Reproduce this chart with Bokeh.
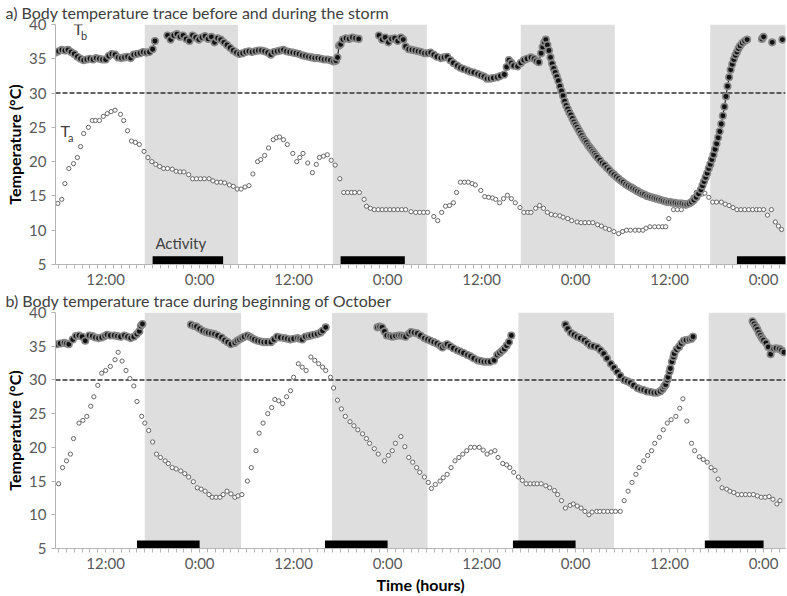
import math
from bokeh.plotting import figure
from bokeh.layouts import column
from bokeh.models import Range1d, FixedTicker, Span, Label
from bokeh.embed import file_html
from bokeh.resources import INLINE

FONT = "Lato"

# ---------------- data ----------------
x_start, x_end = 5.6, 98.8
y_ticks = [5, 10, 15, 20, 25, 30, 35, 40]
hour_ticks = list(range(6, 99))
label_hours = {12: "12:00", 24: "0:00", 36: "12:00", 48: "0:00",
               60: "12:00", 72: "0:00", 84: "12:00", 96: "0:00"}
threshold = 30

title_a = "a) Body temperature trace before and during the storm"
title_b = "b) Body temperature trace during beginning of October"

night_a_start = [17.0, 41.0, 65.0, 89.2]
night_a_end = [28.9, 53.0, 77.0, 99.5]
night_b_start = [17.0, 40.9, 64.7, 89.0]
night_b_end = [29.3, 53.1, 76.9, 99.5]

act_a_start = [18.0, 42.0, 92.6]
act_a_end = [27.0, 50.2, 99.5]
act_b_start = [16.0, 40.0, 64.0, 88.5]
act_b_end = [24.0, 48.0, 72.0, 96.0]

# Body temperature (Tb), panel a: (hour, degC); None = gap in record
tb_a = [
    (5.6, 35.9), (6.0, 36.1), (6.4, 36.3), (6.8, 36.2), (7.2, 36.3), (7.6, 36.0), (8.0, 35.7),
    (8.4, 35.3), (8.8, 35.0), (9.2, 34.8), (9.6, 34.9), (10.0, 35.0), (10.4, 34.9), (10.8, 35.1),
    (11.2, 35.0), (11.6, 34.9), (12.0, 34.9), (12.4, 35.4), (12.8, 35.7), (13.2, 35.6), (13.6, 35.2),
    (14.0, 35.1), (14.4, 35.2), (14.8, 35.3), (15.2, 35.1), (15.6, 35.6), (16.0, 35.7), (16.4, 35.8),
    (16.8, 36.0), (17.2, 35.9), (17.6, 36.0), (18.0, 36.4), (18.3, 37.6), None,
    (19.9, 38.4), (20.3, 37.8), (20.7, 38.4), (21.1, 38.6), (21.5, 38.2), (21.9, 38.4), (22.3, 37.9),
    (22.7, 37.6), (23.1, 38.4), (23.5, 38.1), (23.9, 37.8), (24.3, 38.1), (24.7, 38.3), (25.1, 37.9),
    (25.5, 38.2), (25.9, 37.4), (26.3, 38.0), (26.7, 37.8), (27.1, 37.4), (27.5, 37.0), (27.9, 36.6),
    (28.3, 36.2), (28.7, 35.9), (29.1, 35.7), (29.5, 35.8), (29.9, 36.0), (30.3, 36.1), (30.7, 36.0),
    (31.1, 36.1), (31.5, 36.2), (31.9, 36.2), (32.3, 36.1), (32.7, 35.9), (33.1, 35.6), (33.5, 36.0),
    (33.9, 36.1), (34.3, 36.2), (34.7, 36.3), (35.1, 36.1), (35.5, 36.0), (35.9, 35.9), (36.3, 35.8),
    (36.7, 35.7), (37.1, 35.5), (37.5, 35.4), (37.9, 35.3), (38.3, 35.2), (38.7, 35.1), (39.1, 35.1),
    (39.5, 35.0), (39.9, 34.9), (40.3, 34.9), (40.7, 34.8), (41.1, 34.6), (41.4, 34.7), (41.6, 35.2),
    (41.8, 36.9), (42.0, 37.1), (42.3, 37.8), (42.7, 38.0), (43.1, 37.9), (43.5, 38.1), (43.9, 38.0),
    (44.3, 37.9), None,
    (46.9, 38.4), (47.3, 37.8), (47.7, 38.1), (48.1, 37.4), (48.5, 37.9), (48.9, 38.0), (49.3, 37.6),
    (49.7, 38.1), (50.0, 37.8), (50.3, 36.8), (50.7, 36.4), (51.1, 36.3), (51.5, 36.2), (51.9, 36.1),
    (52.3, 36.0), (52.7, 35.8), (53.1, 35.8), (53.5, 35.9), (53.9, 35.6), (54.3, 35.3), (54.8, 35.1),
    (55.2, 35.2), (55.6, 35.3), (56.0, 34.8), (56.4, 34.4), (56.9, 34.0), (57.3, 33.7), (57.7, 33.5),
    (58.2, 33.3), (58.6, 33.1), (59.0, 33.0), (59.5, 32.8), (59.9, 32.6), (60.3, 32.4), (60.7, 32.1),
    (61.1, 32.1), (61.5, 32.2), (62.0, 32.3), (62.4, 32.5), (62.9, 32.7), (63.2, 33.8), (63.5, 34.8),
    (63.8, 34.4), (64.1, 34.0), (64.6, 33.9), (65.0, 34.4), (65.4, 34.8), (65.8, 35.0), (66.3, 35.2),
    (66.7, 35.0), (67.0, 34.7), (67.3, 34.5), (67.6, 35.8), (67.8, 36.7), (68.0, 37.4), (68.2, 37.8),
    (68.4, 37.0), (68.6, 36.2), (68.8, 35.2), (69.0, 34.3), (69.2, 33.6), (69.4, 33.0), (69.6, 32.4),
    (69.8, 31.8), (70.0, 31.0), (70.2, 30.3), (70.4, 29.6), (70.6, 28.8), (70.8, 28.2), (71.0, 27.7),
    (71.2, 27.2), (71.4, 26.8), (71.6, 26.3), (71.8, 25.8), (72.0, 25.4), (72.2, 25.0), (72.4, 24.6),
    (72.6, 24.2), (72.8, 23.8), (73.0, 23.4), (73.2, 23.1), (73.4, 22.8), (73.6, 22.4), (73.8, 22.1),
    (74.0, 21.8), (74.2, 21.5), (74.4, 21.2), (74.6, 20.9), (74.8, 20.6), (75.1, 20.2), (75.4, 19.8),
    (75.7, 19.5), (76.0, 19.1), (76.3, 18.8), (76.6, 18.4), (76.9, 18.1), (77.2, 17.8), (77.5, 17.5),
    (77.8, 17.2), (78.1, 17.0), (78.4, 16.7), (78.7, 16.5), (79.0, 16.3), (79.3, 16.1), (79.6, 15.9),
    (79.9, 15.7), (80.2, 15.5), (80.5, 15.3), (80.8, 15.2), (81.1, 15.0), (81.4, 14.9), (81.7, 14.8),
    (82.0, 14.7), (82.3, 14.6), (82.6, 14.5), (82.9, 14.4), (83.2, 14.3), (83.5, 14.2), (83.8, 14.1),
    (84.1, 14.1), (84.4, 14.0), (84.7, 14.0), (85.0, 13.9), (85.3, 13.9), (85.6, 13.9), (85.9, 13.8),
    (86.2, 13.8), (86.5, 13.9), (86.8, 14.1), (87.1, 14.4), (87.4, 14.8), (87.7, 15.3), (88.0, 15.9),
    (88.2, 16.5), (88.4, 17.1), (88.6, 17.7), (88.8, 18.3), (89.0, 19.0), (89.2, 19.6), (89.4, 20.3),
    (89.6, 21.0), (89.8, 21.8), (90.0, 22.6), (90.2, 23.5), (90.4, 24.4), (90.6, 25.5), (90.8, 26.7),
    (91.0, 28.0), (91.2, 29.5), (91.4, 31.0), (91.6, 32.3), (91.8, 33.4), (92.0, 34.2), (92.2, 34.9),
    (92.4, 35.5), (92.6, 36.0), (92.8, 36.5), (93.0, 36.9), (93.3, 37.3), (93.6, 37.6), (93.9, 37.8),
    None, (95.8, 37.9), (96.0, 38.2), None, (97.1, 37.4), None, (98.4, 37.8),
]

# Ambient temperature (Ta), panel a
ta_a = [
    (5.9, 13.9), (6.4, 14.5), (6.8, 16.8), (7.3, 19.0), (7.9, 19.7), (8.4, 20.6), (8.8, 22.2),
    (9.2, 24.1), (9.8, 25.0), (10.3, 26.0), (10.7, 26.0), (11.2, 26.0), (11.7, 26.6), (12.2, 27.0),
    (12.7, 27.3), (13.2, 27.5), (13.9, 26.9), (14.3, 26.0), (14.8, 24.5), (15.3, 23.0), (15.8, 22.8),
    (16.3, 22.5), (16.9, 21.5), (17.4, 20.6), (17.9, 20.0), (18.4, 19.6), (18.9, 19.3), (19.4, 19.0),
    (19.9, 19.0), (20.5, 18.9), (21.0, 18.6), (21.5, 18.5), (22.0, 18.5), (22.6, 18.1), (23.1, 17.5),
    (23.6, 17.5), (24.1, 17.5), (24.6, 17.5), (25.2, 17.5), (25.7, 17.2), (26.2, 17.0), (26.7, 17.0),
    (27.2, 16.9), (27.8, 16.6), (28.3, 16.4), (28.8, 16.0), (29.3, 16.0), (29.8, 16.3), (30.3, 16.5),
    (30.8, 18.2), (31.4, 20.0), (31.8, 20.3), (32.3, 20.9), (32.8, 22.0), (33.4, 23.2), (33.8, 23.5),
    (34.2, 23.6), (34.7, 23.2), (35.2, 22.5), (35.9, 21.2), (36.4, 20.0), (36.8, 20.6), (37.2, 21.2),
    (37.8, 19.8), (38.4, 18.4), (38.9, 19.6), (39.3, 20.6), (39.8, 20.8), (40.3, 21.0), (40.8, 20.2),
    (41.3, 19.5), (41.9, 17.5), (42.4, 15.5), (42.9, 15.5), (43.4, 15.5), (43.8, 15.5), (44.4, 15.5),
    (45.0, 14.5), (45.3, 13.5), (45.8, 13.2), (46.3, 13.0), (46.8, 13.0), (47.3, 13.0), (47.8, 13.0),
    (48.3, 13.0), (48.8, 13.0), (49.3, 13.0), (49.8, 13.0), (50.3, 13.0), (51.0, 12.7), (51.6, 12.6),
    (52.1, 12.6), (52.6, 12.6), (53.1, 12.6), (53.9, 12.0), (54.4, 11.4), (54.9, 12.6), (55.4, 13.5),
    (55.9, 13.6), (56.4, 14.0), (56.8, 15.5), (57.3, 17.0), (57.8, 17.0), (58.3, 17.0), (58.8, 16.8),
    (59.2, 16.6), (59.9, 15.8), (60.4, 14.9), (60.9, 14.8), (61.4, 14.7), (61.8, 14.5), (62.3, 14.0),
    (62.8, 14.6), (63.3, 15.1), (63.8, 14.6), (64.3, 14.0), (64.9, 13.3), (65.4, 12.6), (65.9, 12.6),
    (66.3, 12.6), (66.9, 13.2), (67.4, 13.6), (67.9, 13.2), (68.4, 12.6), (68.9, 12.3), (69.4, 12.2),
    (70.0, 12.1), (70.4, 11.9), (71.0, 11.7), (71.5, 11.4), (72.2, 11.2), (72.7, 11.1), (73.2, 11.1),
    (73.7, 11.1), (74.2, 11.1), (74.8, 10.8), (75.3, 10.6), (75.8, 10.3), (76.3, 10.1), (76.9, 9.8),
    (77.5, 9.5), (78.0, 9.8), (78.5, 10.0), (79.0, 10.0), (79.6, 10.0), (80.1, 10.0), (80.6, 10.0),
    (81.0, 10.3), (81.5, 10.5), (82.1, 10.5), (82.6, 10.5), (83.1, 10.5), (83.5, 10.5), (83.9, 11.7),
    (84.5, 13.0), (85.0, 13.0), (85.5, 13.0), (86.1, 13.5), (86.5, 13.9), (87.0, 14.8), (87.4, 15.5),
    (87.8, 15.5), (88.2, 15.3), (88.5, 15.4), (89.0, 14.8), (89.5, 14.1), (90.0, 14.1), (90.6, 14.1),
    (91.1, 13.8), (91.6, 13.6), (92.1, 13.3), (92.6, 13.0), (93.1, 13.0), (93.6, 13.0), (94.1, 13.0),
    (94.6, 13.0), (95.1, 13.0), (95.5, 13.0), (96.0, 13.0), (96.5, 12.2), (97.0, 13.0), (97.5, 11.2),
    (97.9, 10.6), (98.3, 10.1),
]

# Body temperature (Tb), panel b
tb_b = [
    (5.8, 35.3), (6.2, 35.4), (6.7, 35.5), (7.0, 35.4), (7.3, 35.3), (7.8, 36.0), (8.2, 36.5),
    (8.6, 36.6), (9.0, 36.4), (9.4, 35.8), (9.9, 36.6), (10.3, 36.5), (10.7, 36.3), (11.1, 36.2),
    (11.5, 36.3), (11.9, 36.5), (12.2, 36.7), (12.6, 36.6), (13.1, 36.6), (13.5, 36.5), (13.9, 36.4),
    (14.4, 36.6), (14.8, 36.4), (15.2, 36.2), (15.6, 36.4), (16.0, 36.8), (16.3, 37.2), (16.5, 38.0),
    (16.7, 38.3), None,
    (22.9, 38.2), (23.3, 38.0), (23.6, 37.9), (24.0, 37.6), (24.4, 37.3), (24.8, 37.1), (25.1, 37.0),
    (25.5, 36.9), (25.9, 36.8), (26.3, 36.6), (26.8, 36.3), (27.2, 35.9), (27.6, 35.6), (28.0, 35.3),
    (28.5, 35.5), (28.8, 35.8), (29.1, 36.0), (29.4, 36.2), (29.7, 36.4), (30.1, 36.6), (30.4, 36.4),
    (30.7, 36.2), (31.0, 36.0), (31.4, 35.8), (31.8, 35.7), (32.2, 35.6), (32.6, 35.6), (33.1, 35.6),
    (33.5, 36.0), (33.9, 36.4), (34.3, 36.3), (34.8, 36.2), (35.2, 36.1), (35.6, 36.0), (36.0, 36.1),
    (36.5, 36.2), (36.8, 36.1), (37.1, 36.0), (37.5, 36.4), (37.9, 36.5), (38.2, 36.6), (38.6, 36.7),
    (39.0, 36.8), (39.4, 37.0), (39.7, 37.3), (40.1, 37.8), None,
    (46.7, 37.8), (47.0, 37.9), (47.3, 37.8), (47.6, 37.2), (47.9, 36.6), (48.3, 36.5), (48.6, 36.4),
    (49.0, 36.5), (49.4, 36.6), (49.7, 36.6), (50.0, 36.5), (50.3, 36.4), (50.7, 36.8), (51.0, 37.1),
    (51.4, 37.0), (51.8, 36.9), (52.2, 36.6), (52.7, 36.2), (53.1, 36.0), (53.5, 35.8), (53.9, 35.6),
    (54.3, 35.4), (54.7, 35.1), (55.0, 34.8), (55.3, 35.1), (55.6, 35.3), (56.0, 35.0), (56.4, 34.7),
    (56.9, 34.4), (57.3, 34.2), (57.7, 34.0), (58.2, 33.7), (58.6, 33.5), (59.0, 33.2), (59.5, 32.9),
    (59.9, 32.8), (60.3, 32.7), (60.7, 32.7), (61.1, 32.7), (61.6, 32.9), (62.0, 33.7), (62.3, 34.0),
    (62.6, 34.3), (62.9, 34.6), (63.2, 35.1), (63.5, 35.6), (63.8, 36.6), None,
    (70.7, 38.2), (71.0, 37.6), (71.4, 37.0), (71.8, 36.7), (72.2, 36.4), (72.6, 36.2), (73.1, 35.9),
    (73.5, 35.5), (73.9, 35.1), (74.3, 35.0), (74.8, 34.8), (75.2, 34.4), (75.6, 33.9), (76.0, 33.2),
    (76.5, 32.4), (76.9, 31.8), (77.3, 31.2), (77.7, 30.6), (78.2, 30.0), (78.6, 29.8), (79.0, 29.6),
    (79.4, 29.2), (79.9, 28.8), (80.3, 28.6), (80.7, 28.5), (81.1, 28.3), (81.6, 28.2), (82.0, 28.1),
    (82.4, 28.1), (82.8, 28.3), (83.1, 28.6), (83.3, 29.0), (83.5, 29.3), (83.7, 30.0), (83.8, 30.4),
    (84.0, 31.2), (84.1, 31.7), (84.3, 32.7), (84.5, 33.4), (84.6, 33.9), (84.9, 34.5), (85.2, 34.9),
    (85.5, 35.4), (85.8, 35.8), (86.1, 35.9), (86.5, 36.0), (86.8, 36.1), (87.0, 36.4), None,
    (94.6, 38.7), (94.8, 38.3), (95.0, 37.9), (95.2, 37.5), (95.4, 37.0), (95.6, 36.6), (95.8, 36.2),
    (96.0, 35.9), (96.3, 35.5), (96.6, 34.9), (96.9, 33.8), (97.3, 34.6), (97.6, 34.7), (98.0, 34.6),
    (98.3, 34.4), (98.6, 34.1),
]

# Ambient temperature (Ta), panel b
ta_b = [
    (6.0, 14.6), (6.5, 17.0), (7.0, 18.0), (7.5, 19.0), (7.9, 21.3), (8.6, 23.6), (9.1, 24.0),
    (9.6, 24.6), (10.1, 26.1), (10.5, 27.5), (11.0, 29.2), (11.5, 31.0), (12.0, 31.4), (12.6, 32.0),
    (13.2, 33.0), (13.6, 34.1), (14.1, 32.8), (14.6, 31.4), (15.1, 30.2), (15.6, 29.1), (16.0, 26.8),
    (16.6, 24.6), (17.0, 23.6), (17.5, 22.5), (18.0, 20.8), (18.5, 19.0), (19.0, 18.5), (19.6, 18.0),
    (20.0, 17.6), (20.5, 17.0), (21.0, 16.8), (21.6, 16.5), (22.1, 16.1), (22.6, 15.6), (23.2, 14.9),
    (23.7, 14.0), (24.2, 13.8), (24.7, 13.5), (25.2, 13.0), (25.6, 12.6), (26.1, 12.6), (26.6, 12.6),
    (27.0, 13.0), (27.5, 13.5), (28.0, 13.1), (28.5, 12.6), (28.9, 12.8), (29.4, 13.0), (30.1, 15.0),
    (30.6, 17.0), (31.2, 19.5), (31.6, 22.1), (32.1, 23.6), (32.7, 25.0), (33.2, 25.9), (33.6, 27.1),
    (34.1, 26.9), (34.6, 26.5), (35.1, 27.5), (35.6, 28.4), (36.0, 30.4), (36.6, 32.4), (37.1, 31.9),
    (37.6, 31.4), (38.2, 33.4), (38.7, 32.9), (39.2, 32.4), (39.7, 31.9), (40.1, 31.4), (40.7, 30.4),
    (41.1, 28.8), (41.6, 27.0), (42.1, 25.7), (42.6, 24.6), (43.2, 23.8), (43.7, 23.2), (44.2, 22.6),
    (44.8, 22.0), (45.3, 21.3), (45.7, 20.6), (46.3, 19.8), (46.8, 19.0), (47.6, 18.0), (48.1, 18.8),
    (48.6, 19.5), (49.0, 20.6), (49.7, 21.6), (50.2, 20.1), (50.7, 18.5), (51.2, 17.8), (51.7, 17.0),
    (52.1, 16.3), (52.7, 15.6), (53.2, 14.8), (53.6, 13.9), (54.1, 14.5), (54.7, 15.0), (55.1, 15.5),
    (55.6, 16.0), (56.1, 17.0), (56.6, 18.0), (57.1, 18.5), (57.6, 19.0), (58.1, 19.5), (58.6, 20.0),
    (59.1, 20.0), (59.7, 20.0), (60.2, 19.6), (60.7, 19.0), (61.2, 19.3), (61.7, 19.5), (62.1, 18.5),
    (62.7, 17.6), (63.2, 17.4), (63.6, 17.0), (64.1, 16.3), (64.7, 15.6), (65.2, 15.1), (65.7, 14.6),
    (66.2, 14.6), (66.7, 14.6), (67.1, 14.6), (67.6, 14.6), (68.2, 14.3), (68.7, 14.0), (69.3, 13.6),
    (69.7, 13.0), (70.2, 12.1), (70.7, 11.0), (71.3, 11.4), (71.7, 11.6), (72.2, 11.3), (72.7, 11.0),
    (73.2, 10.5), (73.7, 10.0), (74.1, 10.4), (74.7, 10.5), (75.1, 10.5), (75.6, 10.5), (76.1, 10.5),
    (76.6, 10.5), (77.1, 10.5), (77.7, 10.5), (78.2, 12.1), (78.7, 13.5), (79.2, 14.8), (79.7, 16.0),
    (80.1, 17.0), (80.7, 18.0), (81.2, 18.8), (81.7, 19.5), (82.1, 20.6), (82.7, 21.5), (83.2, 22.6),
    (83.7, 23.6), (84.2, 24.1), (84.8, 24.6), (85.3, 25.8), (85.7, 27.2), (86.2, 23.9), (86.8, 20.6),
    (87.2, 19.5), (87.8, 18.6), (88.3, 18.2), (88.8, 17.8), (89.3, 17.0), (89.8, 16.6), (90.2, 15.3),
    (90.7, 14.0), (91.3, 13.8), (91.7, 13.5), (92.2, 13.3), (92.7, 13.0), (93.2, 13.0), (93.7, 13.0),
    (94.2, 13.0), (94.7, 13.0), (95.2, 12.8), (95.7, 12.6), (96.2, 12.6), (96.7, 12.7), (97.2, 12.3),
    (97.7, 11.6), (98.1, 12.1),
]


def split(series):
    xs = [math.nan if p is None else p[0] for p in series]
    ys = [math.nan if p is None else p[1] for p in series]
    return xs, ys


AXIS_GREY = "#b4b4b4"
LABEL_GREY = "#595959"
TEXT_GREY = "#404040"


def make_panel(title, tb, ta, n_start, n_end, a_start, a_end, height,
               border_top, border_bottom, xlabel=None, labels=False):
    p = figure(width=787, height=height, x_range=Range1d(x_start, x_end),
               y_range=Range1d(5, 40), output_backend="svg", toolbar_location=None,
               min_border_left=55, min_border_right=2, min_border_top=border_top,
               min_border_bottom=border_bottom)
    p.outline_line_color = None
    p.xgrid.visible = False
    p.ygrid.visible = False
    p.background_fill_color = "white"

    p.title.text = title
    p.title.text_font = FONT
    p.title.text_font_size = "16px"
    p.title.text_font_style = "normal"
    p.title.text_color = TEXT_GREY
    p.title.align = "left"
    p.title.vertical_align = "top"
    p.title.offset = -50
    p.title.standoff = 1

    # night shading
    p.quad(left=n_start, right=n_end, bottom=5, top=40, fill_color="#dedede",
           line_color=None, level="underlay")
    thr = Span(location=threshold, dimension="width", line_color="#303030",
               line_width=1.5, line_dash="5 2", level="underlay")
    p.add_layout(thr)

    # activity bars
    p.quad(left=a_start, right=a_end, bottom=5, top=6.2, fill_color="black",
           line_color=None)

    tax, tay = split(ta)
    p.scatter(tax, tay, size=4.2, marker="circle", fill_color="white",
              line_color="#666666", line_width=1)

    tbx, tby = split(tb)
    p.line(tbx, tby, line_color="black", line_width=1)
    p.scatter(tbx, tby, size=6.5, marker="circle", fill_color="#111111",
              line_color="#878787", line_width=1.6)

    # axes
    p.yaxis.ticker = FixedTicker(ticks=y_ticks)
    p.xaxis.ticker = FixedTicker(ticks=hour_ticks)
    p.xaxis.major_label_overrides = {h: label_hours.get(h, "") for h in hour_ticks}
    for ax in (p.xaxis[0], p.yaxis[0]):
        ax.axis_line_color = AXIS_GREY
        ax.major_tick_line_color = AXIS_GREY
        ax.minor_tick_line_color = None
        ax.major_tick_in = 0
        ax.major_tick_out = 4
        ax.major_label_text_font = FONT
        ax.major_label_text_font_size = "15px"
        ax.major_label_text_color = LABEL_GREY
        ax.axis_label_text_font = FONT
        ax.axis_label_text_font_size = "16px"
        ax.axis_label_text_font_style = "bold"
        ax.axis_label_text_color = "black"
    p.yaxis.major_label_standoff = 5
    p.yaxis.axis_label = "Temperature (°C)"
    p.yaxis.axis_label_standoff = 2
    p.xaxis.major_label_standoff = 1
    if xlabel:
        p.xaxis.axis_label = xlabel
        p.xaxis.axis_label_standoff = 0

    if labels:
        p.add_layout(Label(x=7.9, y=38.0, text="T", text_font=FONT,
                           text_font_size="16px", text_color=TEXT_GREY))
        p.add_layout(Label(x=8.85, y=37.4, text="b", text_font=FONT,
                           text_font_size="11px", text_color=TEXT_GREY))
        p.add_layout(Label(x=6.25, y=23.2, text="T", text_font=FONT,
                           text_font_size="16px", text_color=TEXT_GREY))
        p.add_layout(Label(x=7.2, y=22.6, text="a", text_font=FONT,
                           text_font_size="11px", text_color=TEXT_GREY))
        p.add_layout(Label(x=21.6, y=8.2, text="Activity", text_font=FONT,
                           text_font_size="15px", text_color=TEXT_GREY,
                           text_align="center", text_baseline="middle"))
    return p


pa = make_panel(title_a, tb_a, ta_a, night_a_start, night_a_end, act_a_start, act_a_end,
                height=290, border_top=24, border_bottom=24, labels=True)
pb = make_panel(title_b, tb_b, ta_b, night_b_start, night_b_end, act_b_start, act_b_end,
                height=306, border_top=22, border_bottom=44, xlabel="Time (hours)")

layout = column(pa, pb, spacing=0)
open("out.html", "w").write(file_html(layout, INLINE))
